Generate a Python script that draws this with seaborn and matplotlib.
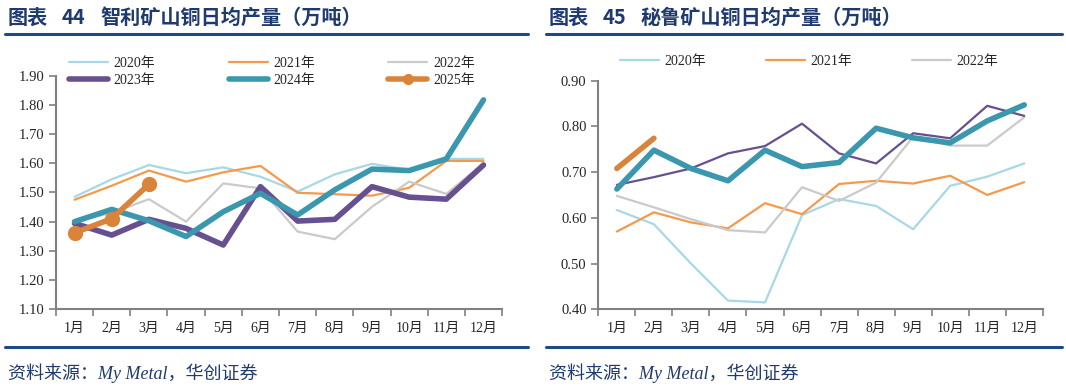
import numpy as np
import pandas as pd
import seaborn as sns
import matplotlib.pyplot as plt
from matplotlib.lines import Line2D

# month labels
months = ['1月', '2月', '3月', '4月', '5月', '6月', '7月', '8月', '9月', '10月', '11月', '12月']

# Chile daily copper output (10k t)
chile_2020 = [1.485, 1.545, 1.594, 1.566, 1.586, 1.554, 1.503, 1.562, 1.598, 1.577, 1.615, 1.615]
chile_2021 = [1.475, 1.523, 1.575, 1.537, 1.569, 1.591, 1.499, 1.494, 1.489, 1.516, 1.608, 1.608]
chile_2022 = [1.400, 1.430, 1.477, 1.400, 1.531, 1.514, 1.366, 1.340, 1.451, 1.537, 1.495, 1.600]
chile_2023 = [1.394, 1.354, 1.408, 1.377, 1.320, 1.520, 1.402, 1.408, 1.520, 1.484, 1.477, 1.594]
chile_2024 = [1.400, 1.442, 1.403, 1.349, 1.434, 1.497, 1.423, 1.509, 1.580, 1.575, 1.615, 1.817]
chile_2025 = [1.362, 1.410, 1.528]

# Peru daily copper output (10k t)
peru_2020 = [0.617, 0.586, 0.500, 0.419, 0.415, 0.606, 0.641, 0.626, 0.575, 0.670, 0.690, 0.719]
peru_2021 = [0.570, 0.612, 0.590, 0.577, 0.632, 0.608, 0.674, 0.681, 0.675, 0.692, 0.650, 0.678]
peru_2022 = [0.648, 0.623, 0.597, 0.573, 0.568, 0.667, 0.637, 0.677, 0.777, 0.758, 0.758, 0.820]
peru_2023 = [0.672, 0.689, 0.708, 0.741, 0.757, 0.806, 0.741, 0.719, 0.785, 0.774, 0.845, 0.823]
peru_2024 = [0.663, 0.748, 0.708, 0.681, 0.748, 0.712, 0.721, 0.796, 0.775, 0.764, 0.812, 0.847]
peru_2025 = [0.708, 0.774]

colors = {'2020': '#A8D8E8', '2021': '#F59A4C', '2022': '#CACACA',
          '2023': '#66508F', '2024': '#3A97AE', '2025': '#DA833A'}
navy = '#1F3A6E'
serif_cjk = ['Liberation Serif', 'Noto Sans CJK SC']

sns.set_theme(style='white')
plt.rcParams['font.family'] = serif_cjk
plt.rcParams['axes.unicode_minus'] = False

fig = plt.figure(figsize=(10.66, 3.89), dpi=100)


def draw(ax, series, ylim, ystep):
    for label, vals, lw, marker in series:
        df = pd.DataFrame({'x': np.arange(len(vals)), 'y': vals})
        sns.lineplot(data=df, x='x', y='y', ax=ax, color=colors[label], lw=lw,
                     marker=marker, markersize=11 if marker else 0,
                     markeredgewidth=0, sort=False, legend=False,
                     solid_capstyle='round')
    ax.set_xlim(-0.5, 11.5)
    ax.set_ylim(*ylim)
    ax.set_yticks(np.round(np.arange(ylim[0], ylim[1] + 1e-9, ystep), 2))
    ax.yaxis.set_major_formatter(plt.FormatStrFormatter('%.2f'))
    ax.set_xticks(np.arange(-0.5, 12, 1))
    ax.set_xticklabels([])
    ax.set_xticks(np.arange(12), minor=True)
    ax.set_xticklabels(months, minor=True)
    ax.tick_params(axis='x', which='major', length=5, width=1.2, color='#808080', direction='out', bottom=True)
    ax.tick_params(axis='x', which='minor', length=0, pad=9, labelsize=10)
    ax.tick_params(axis='y', length=5, width=1.2, color='#808080', direction='out', left=True, labelsize=10.5)
    for s in ['top', 'right']:
        ax.spines[s].set_visible(False)
    for s in ['left', 'bottom']:
        ax.spines[s].set_color('#808080')
        ax.spines[s].set_linewidth(1.5)
    ax.set_xlabel('')
    ax.set_ylabel('')
    ax.grid(False)


# left chart
ax1 = fig.add_axes([0.0525, 0.205, 0.4185, 0.6005])
left_series = [('2020', chile_2020, 1.6, None), ('2021', chile_2021, 1.6, None),
               ('2022', chile_2022, 1.6, None), ('2023', chile_2023, 4.0, None),
               ('2024', chile_2024, 4.0, None), ('2025', chile_2025, 4.0, 'o')]
draw(ax1, left_series, (1.10, 1.90), 0.1)

# right chart
ax2 = fig.add_axes([0.5613, 0.205, 0.4169, 0.5876])
right_series = [('2020', peru_2020, 1.6, None), ('2021', peru_2021, 1.6, None),
                ('2022', peru_2022, 1.6, None), ('2023', peru_2023, 1.6, None),
                ('2024', peru_2024, 4.0, None), ('2025', peru_2025, 4.0, None)]
draw(ax2, right_series, (0.40, 0.90), 0.1)

# legends
def handle(label, lw, marker=None):
    return Line2D([], [], color=colors[label], lw=lw, marker=marker, markersize=8,
                  markeredgewidth=0, solid_capstyle='round')

h_left = [handle('2020', 1.6), handle('2023', 4.0), handle('2021', 1.6),
          handle('2024', 4.0), handle('2022', 1.6), handle('2025', 4.0, 'o')]
l_left = ['2020年', '2023年', '2021年', '2024年', '2022年', '2025年']
fig.legend(h_left, l_left, ncol=3, loc='center left', bbox_to_anchor=(0.053, 0.815),
           frameon=False, fontsize=10, handlelength=2.8, handletextpad=0.4,
           columnspacing=5.3, labelspacing=0.25)

h_right = [handle('2020', 1.6), handle('2021', 1.6), handle('2022', 1.6)]
fig.legend(h_right, ['2020年', '2021年', '2022年'], ncol=3, loc='center left',
           bbox_to_anchor=(0.570, 0.843), frameon=False, fontsize=10,
           handlelength=2.8, handletextpad=0.4, columnspacing=4.3)

# titles, rules and sources
cjk = ['Noto Sans CJK SC']
for x0, num, body in [(8, '44', '智利矿山铜日均产量（万吨）'), (549, '45', '秘鲁矿山铜日均产量（万吨）')]:
    yt = 1 - 17 / 389
    fig.text(x0 / 1066, yt, '图表', family=cjk, fontsize=14.5, fontweight='bold', color=navy, va='center')
    fig.text((x0 + 54) / 1066, yt, num, family=cjk, fontsize=14.5, fontweight='bold', color=navy, va='center')
    fig.text((x0 + 92) / 1066, yt, body, family=cjk, fontsize=14.5, fontweight='bold', color=navy, va='center')

for x0, x1 in [(5, 528), (546, 1062)]:
    for yy in (33.5, 346.5):
        fig.add_artist(Line2D([x0 / 1066, x1 / 1066], [1 - yy / 389] * 2,
                              color='#1F4A8A', lw=2.2, transform=fig.transFigure))
    fig.text((x0 + 3) / 1066, 1 - 373 / 389, '资料来源：My Metal，华创证券',
             family=serif_cjk, style='italic', fontsize=13, color=navy, va='center')

fig.savefig('out.png', dpi=100)
